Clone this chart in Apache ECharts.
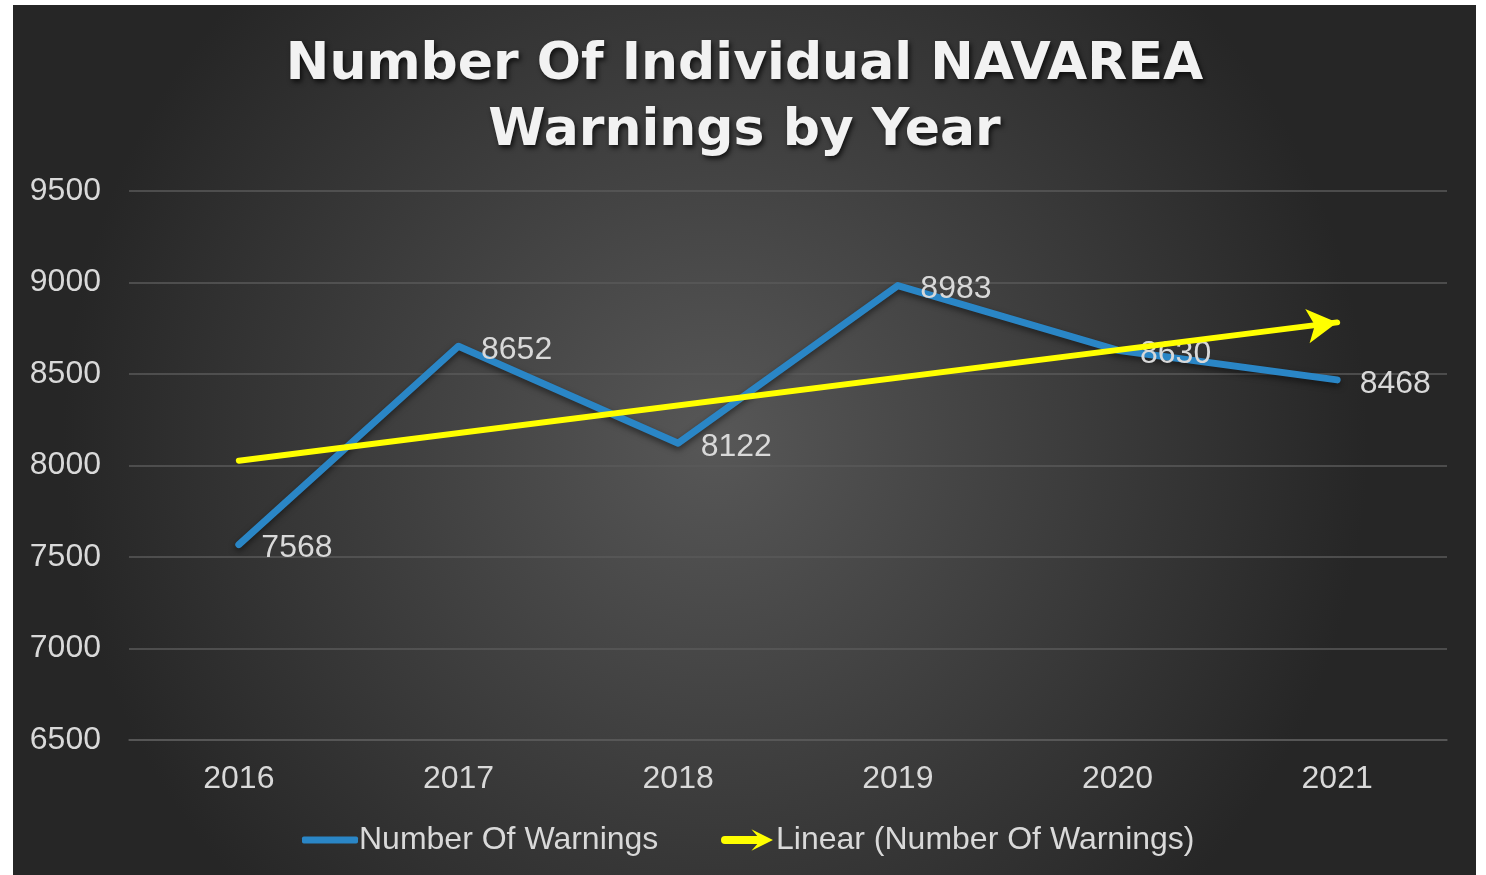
<!DOCTYPE html>
<html lang="en">
<head>
    <meta charset="UTF-8">
    <title>Number Of Individual NAVAREA Warnings by Year</title>
    <style>
        body { margin: 0; background: #ffffff; }
        #main { position: absolute; left: 13px; top: 5px; width: 1463px; height: 870px; }
    </style>
</head>
<body>
    <div id="main"></div>
</body>
<script src="https://cdn.jsdelivr.net/npm/echarts@6/dist/echarts.min.js"></script>
<script type="text/javascript">
    // data
    var years = ['2016', '2017', '2018', '2019', '2020', '2021'];
    var warnings = [7568, 8652, 8122, 8983, 8630, 8468];
    // trendline end points (Excel linear trend)
    var trendStart = 8026;
    var trendEnd = 8782;
    var yTicks = { min: 6500, max: 9500, interval: 500 };

    var txt = '#d9d9d9';
    var font = '"Liberation Sans", Arial, sans-serif';
    var fs = 32;

    var myChart = echarts.init(document.getElementById('main'));
    var option = {
        backgroundColor: {
            type: 'radial', x: 0.48, y: 0.5, r: 0.75,
            colorStops: [
                { offset: 0, color: '#575757' },
                { offset: 1, color: '#262626' }
            ]
        },
        textStyle: { fontFamily: font },
        title: {
            text: 'Number Of Individual NAVAREA\nWarnings by Year',
            left: 'center',
            top: 22,
            textStyle: {
                color: '#f2f2f2',
                fontSize: 52,
                fontWeight: 'bold',
                lineHeight: 66,
                fontFamily: '"DejaVu Sans", Verdana, sans-serif',
                textShadowColor: 'rgba(0,0,0,0.7)',
                textShadowBlur: 5,
                textShadowOffsetX: 2,
                textShadowOffsetY: 3
            }
        },
        legend: [{
            data: ['Number Of Warnings'],
            left: 284,
            top: 814,
            icon: 'roundRect',
            itemWidth: 56,
            itemHeight: 7,
            itemGap: 4,
            textStyle: { color: txt, fontSize: fs, fontFamily: font, padding: [0, 0, 0, -4] }
        }, {
            data: ['Linear (Number Of Warnings)'],
            left: 703,
            top: 814,
            icon: 'path://M3,7 L36,7 L30,0 L52,11 L30,22 L36,15 L3,15 A4,4 0 0 1 3,7 Z',
            itemWidth: 52,
            itemHeight: 22,
            textStyle: { color: txt, fontSize: fs, fontFamily: font, padding: [0, 0, 0, -2] }
        }],
        grid: { left: 116, right: 29, top: 186, bottom: 135 },
        xAxis: {
            type: 'category',
            data: years,
            boundaryGap: true,
            axisLine: { show: true, lineStyle: { color: '#5a5a5a', width: 1.5 } },
            axisTick: { show: false },
            axisLabel: { color: txt, fontSize: fs, margin: 23, fontFamily: font }
        },
        yAxis: {
            type: 'value',
            min: yTicks.min,
            max: yTicks.max,
            interval: yTicks.interval,
            axisLine: { show: false },
            axisTick: { show: false },
            axisLabel: {
                color: txt, fontSize: fs, margin: 28, fontFamily: font,
                formatter: function (v) { return String(v); }
            },
            splitLine: { lineStyle: { color: '#5a5a5a', width: 1.5 } }
        },
        series: [{
            name: 'Number Of Warnings',
            type: 'line',
            z: 2,
            data: warnings,
            symbol: 'circle',
            symbolSize: 1,
            showSymbol: true,
            color: '#2a86c6',
            lineStyle: {
                width: 7, color: '#2a86c6', cap: 'round', join: 'round',
                shadowColor: 'rgba(0,0,0,0.5)', shadowBlur: 6, shadowOffsetY: 3
            },
            label: {
                show: true,
                position: 'right',
                distance: 22,
                offset: [0, 4],
                color: txt,
                fontSize: fs,
                fontFamily: font
            }
        }, {
            name: 'Linear (Number Of Warnings)',
            type: 'line',
            z: 3,
            color: '#ffff00',
            data: [],
            symbol: 'none',
            lineStyle: { width: 6, color: '#ffff00' },
            markLine: {
                silent: true,
                symbol: ['none', 'arrow'],
                symbolSize: [26, 30],
                label: { show: false },
                lineStyle: { color: '#ffff00', width: 6, type: 'solid', cap: 'round' },
                data: [[
                    { coord: [years[0], trendStart] },
                    { coord: [years[years.length - 1], trendEnd] }
                ]]
            }
        }]
    };
    myChart.setOption(option);
</script>
</html>
